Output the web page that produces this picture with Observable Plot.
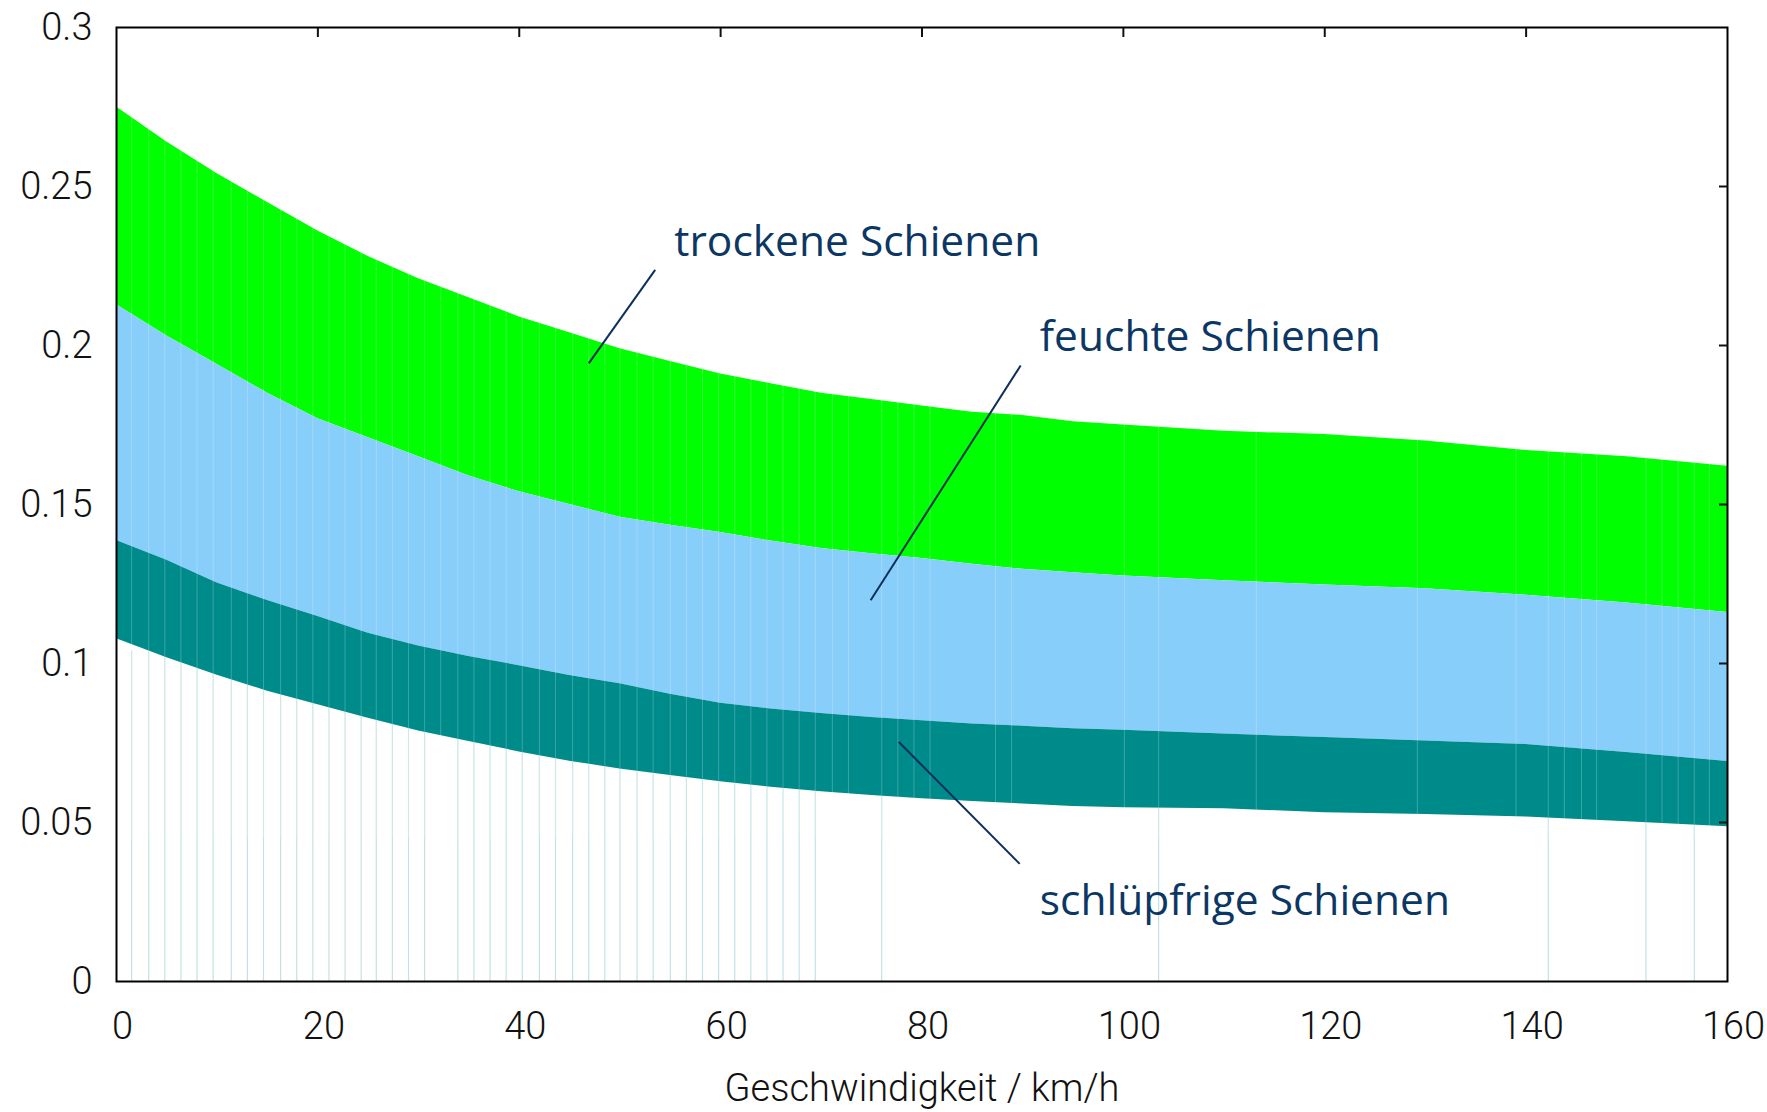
<!DOCTYPE html>
<html>
<head>
<meta charset="utf-8">
<script src="https://cdn.jsdelivr.net/npm/d3@7"></script>
<script src="https://cdn.jsdelivr.net/npm/@observablehq/plot@0.6"></script>
<style>
  html, body { margin: 0; padding: 0; background: white; }
</style>
</head>
<body>
<div id="chart"></div>
<script>
// Speeds (km/h)
const speeds = [0,5,10,15,20,25,30,35,40,45,50,55,60,65,70,75,80,85,90,95,100,110,120,130,140,150,160];
// Adhesion boundaries
const dryHigh  = [0.275,0.264,0.254,0.245,0.236,0.228,0.221,0.215,0.209,0.204,0.199,0.195,0.191,0.188,0.185,0.183,0.181,0.179,0.178,0.176,0.175,0.173,0.172,0.170,0.167,0.165,0.162];
const wetHigh  = [0.2128,0.203,0.194,0.185,0.177,0.171,0.165,0.159,0.154,0.150,0.146,0.1435,0.1412,0.1385,0.1362,0.1345,0.133,0.1312,0.1296,0.1285,0.1275,0.126,0.1247,0.1235,0.1215,0.119,0.116];
const slipHigh = [0.1387,0.1325,0.1253,0.1198,0.1148,0.1095,0.1055,0.1022,0.0993,0.0962,0.0936,0.0903,0.0875,0.0857,0.0843,0.083,0.082,0.081,0.0803,0.0795,0.079,0.0778,0.0767,0.0756,0.0745,0.072,0.0692];
const slipLow  = [0.1078,0.1018,0.0963,0.0913,0.087,0.0828,0.0788,0.0755,0.0722,0.0693,0.0668,0.0648,0.0628,0.0611,0.0597,0.0585,0.0575,0.0566,0.0558,0.055,0.0546,0.0543,0.0531,0.0525,0.0517,0.0502,0.0487];

// strip seams visible in the rendering (km/h)
const seamsLow = [1.5,3.2,4.8,6.4,8.0,9.6,11.4,13.0,14.6,16.3,17.9,19.5,21.1,22.7,24.3,25.8,27.4,29.0,30.6,33.9,35.5,37.1,38.7,40.3,42.0,43.6,45.3,46.9,48.5,50.0,51.7,53.3,55.0,56.6,58.2,59.8,61.4,63.0,64.6,66.2,67.8,69.4,76.0,103.5,142.2,151.9,156.7];
const seamsBand = [1.5,3.2,4.8,6.4,8.0,9.6,11.4,13.0,14.6,16.3,17.9,19.5,21.1,22.7,24.3,25.8,27.4,29.0,30.6,32.2,33.9,35.5,37.1,38.7,40.3,42.0,43.6,45.3,46.9,48.5,50.0,51.7,53.3,55.0,56.6,58.2,59.8,61.4,63.0,64.6,66.2,67.8,69.4,71.1,72.7,76.0,77.6,79.2,80.8,87.3,88.9,100.1,103.5,113.2,129.2,139.0,142.2,143.8,145.5,147.0,151.9,153.5,155.1,156.7,158.2];

// Axes
const xTicks = [0,20,40,60,80,100,120,140,160];
const xInnerTicks = [20,40,60,80,100,120,140];
const yTicks = [0,0.05,0.1,0.15,0.2,0.25,0.3];
const yInnerTicks = [0.05,0.1,0.15,0.2,0.25];
const xLabel = "Geschwindigkeit / km/h";

// Annotations
const labels = ["trockene Schienen","feuchte Schienen","schlüpfrige Schienen"];
const labelX = [55.4, 91.7, 91.7];
const labelY = [0.2323, 0.2025, 0.0253];
const leaderX1 = [53.5, 89.8, 89.7];
const leaderY1 = [0.2238, 0.1937, 0.037];
const leaderX2 = [46.9, 74.9, 77.7];
const leaderY2 = [0.1944, 0.1199, 0.0753];

const idx = labels.map((_, i) => i);

const chart = Plot.plot({
  width: 1767,
  height: 1112,
  marginLeft: 116,
  marginRight: 40,
  marginTop: 27,
  marginBottom: 131,
  style: {fontFamily: "Roboto, 'Liberation Sans', sans-serif", fontSize: "38px", fontWeight: 300, color: "#111", background: "white"},
  x: {domain: [0, 160]},
  y: {domain: [0, 0.3]},
  marks: [
    Plot.ruleX(seamsLow, {x: d => d, y1: 0, y2: 0.104, stroke: "#c2e3e3", strokeWidth: 1.2}),
    Plot.areaY(speeds, {x: speeds, y1: wetHigh, y2: dryHigh, fill: "#00ff00"}),
    Plot.areaY(speeds, {x: speeds, y1: slipHigh, y2: wetHigh, fill: "#87cefa"}),
    Plot.areaY(speeds, {x: speeds, y1: slipLow, y2: slipHigh, fill: "#008b8b"}),
    Plot.ruleX(seamsBand, {x: d => d, y1: 0.045, y2: 0.28, stroke: "white", strokeOpacity: 0.22, strokeWidth: 1}),
    Plot.link(idx, {x1: i => leaderX1[i], y1: i => leaderY1[i], x2: i => leaderX2[i], y2: i => leaderY2[i], stroke: "#0d2f5a", strokeWidth: 2}),
    Plot.text(idx, {x: i => labelX[i], y: i => labelY[i], text: i => labels[i], textAnchor: "start", lineAnchor: "middle", fill: "#0c3764", fontSize: 42.5, fontWeight: 400, fontFamily: "'Open Sans', 'Noto Sans', sans-serif"}),
    Plot.frame({stroke: "#000", strokeWidth: 2}),
    Plot.axisX({anchor: "top", ticks: xInnerTicks, tickSize: -9, tickFormat: () => "", label: null, strokeWidth: 2}),
    Plot.axisY({anchor: "right", ticks: yInnerTicks, tickSize: -9, tickFormat: () => "", label: null, strokeWidth: 2}),
    Plot.axisX({anchor: "bottom", ticks: xTicks, tickSize: 0, tickPadding: 31, dx: 6, fontSize: 38, label: xLabel, labelAnchor: "center", labelArrow: "none", labelOffset: 119}),
    Plot.axisY({anchor: "left", ticks: yTicks, tickSize: 0, tickPadding: 24, fontSize: 38, tickFormat: d3.format("~g"), label: null})
  ]
});
document.getElementById("chart").appendChild(chart);
</script>
</body>
</html>
